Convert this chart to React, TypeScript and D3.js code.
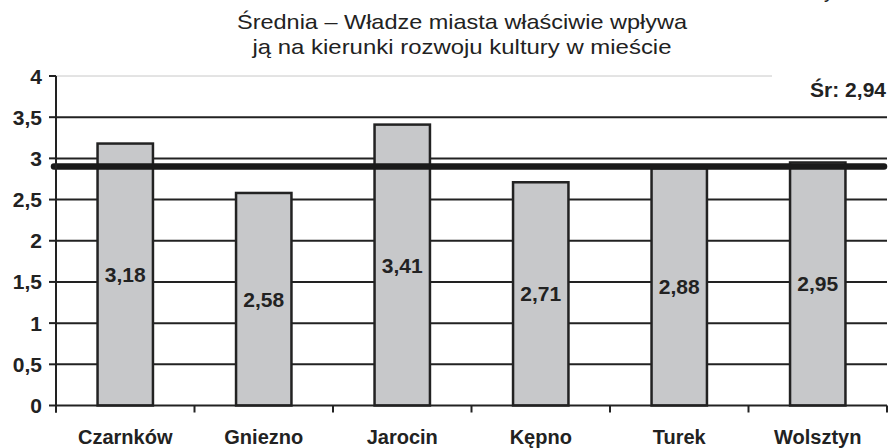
import React from "react";
import * as d3 from "d3";

const categories = ["Czarnków", "Gniezno", "Jarocin", "Kępno", "Turek", "Wolsztyn"];
const values = [3.18, 2.58, 3.41, 2.71, 2.88, 2.95];
const valueLabels = ["3,18", "2,58", "3,41", "2,71", "2,88", "2,95"];
const yTicks = [0, 0.5, 1, 1.5, 2, 2.5, 3, 3.5, 4];
const yTickLabels = ["0", "0,5", "1", "1,5", "2", "2,5", "3", "3,5", "4"];
const meanLine = 2.9;
const meanLabel = "Śr: 2,94";
const titleLines = ["Średnia – Władze miasta właściwie wpływa", "ją na kierunki rozwoju kultury w mieście"];
const titleWidths = [450, 419];

const W = 889;
const H = 448;
const left = 56;
const right = 887;
const top = 76;
const bottom = 405.5;
const font = "'Liberation Sans', Arial, sans-serif";
const ink = "#222";

export default function App() {
  const y = d3.scaleLinear().domain([0, 4]).range([bottom, top]);
  const x = d3.scaleBand().domain(categories).range([left, right]).paddingInner(0.6).paddingOuter(0.3);
  const band = (right - left) / categories.length;

  return (
    <svg width={W} height={H} style={{ position: "absolute", left: 0, top: 0, background: "#fff" }}>
      {/* title */}
      {titleLines.map((t, i) => (
        <text
          key={i}
          x={462}
          y={29 + i * 25}
          textAnchor="middle"
          fontFamily={font}
          fontSize={21}
          fill={ink}
          textLength={titleWidths[i]}
          lengthAdjust="spacingAndGlyphs"
        >
          {t}
        </text>
      ))}
      <text x={824} y={-2} fontFamily={font} fontSize={20} fill={ink}>y</text>

      {/* gridlines */}
      {yTicks.map((t) =>
        t === 0 ? null : t === 4 ? (
          <line key={t} x1={left} x2={772} y1={y(t)} y2={y(t)} stroke="#c8c8c8" strokeWidth={1} />
        ) : (
          <line key={t} x1={left} x2={right} y1={y(t)} y2={y(t)} stroke={ink} strokeWidth={2} />
        )
      )}

      {/* bars */}
      {categories.map((c, i) => (
        <rect
          key={c}
          x={x(c)}
          y={y(values[i])}
          width={x.bandwidth()}
          height={y(0) - y(values[i])}
          fill="#c7c8ca"
          stroke={ink}
          strokeWidth={2.5}
        />
      ))}

      {/* mean line */}
      <line x1={left - 2} x2={right - 3} y1={y(meanLine)} y2={y(meanLine)} stroke="#1a1a1a" strokeWidth={6.5} strokeLinecap="round" />
      <text x={886} y={97} textAnchor="end" fontFamily={font} fontSize={21} fontWeight="bold" fill={ink}>
        {meanLabel}
      </text>

      {/* value labels */}
      {categories.map((c, i) => (
        <text
          key={c}
          x={(x(c) as number) + x.bandwidth() / 2}
          y={(y(values[i]) + y(0)) / 2 + 7.5}
          textAnchor="middle"
          fontFamily={font}
          fontSize={21}
          fontWeight="bold"
          fill={ink}
        >
          {valueLabels[i]}
        </text>
      ))}

      {/* axes */}
      <line x1={left} x2={left} y1={top} y2={bottom + 7} stroke={ink} strokeWidth={2} />
      <line x1={left} x2={right} y1={bottom} y2={bottom} stroke={ink} strokeWidth={2} />
      {yTicks.map((t, i) => (
        <g key={t}>
          <line x1={left - 7} x2={left} y1={y(t)} y2={y(t)} stroke={ink} strokeWidth={2} />
          <text x={42} y={y(t) + 7.5} textAnchor="end" fontFamily={font} fontSize={21} fontWeight="bold" fill={ink}>
            {yTickLabels[i]}
          </text>
        </g>
      ))}
      {d3.range(categories.length + 1).map((i) => (
        <line key={i} x1={left + i * band} x2={left + i * band} y1={bottom} y2={bottom + 7} stroke={ink} strokeWidth={2} />
      ))}
      {categories.map((c) => (
        <text
          key={c}
          x={(x(c) as number) + x.bandwidth() / 2}
          y={444}
          textAnchor="middle"
          fontFamily={font}
          fontSize={20}
          fontWeight="bold"
          fill={ink}
        >
          {c}
        </text>
      ))}
    </svg>
  );
}
